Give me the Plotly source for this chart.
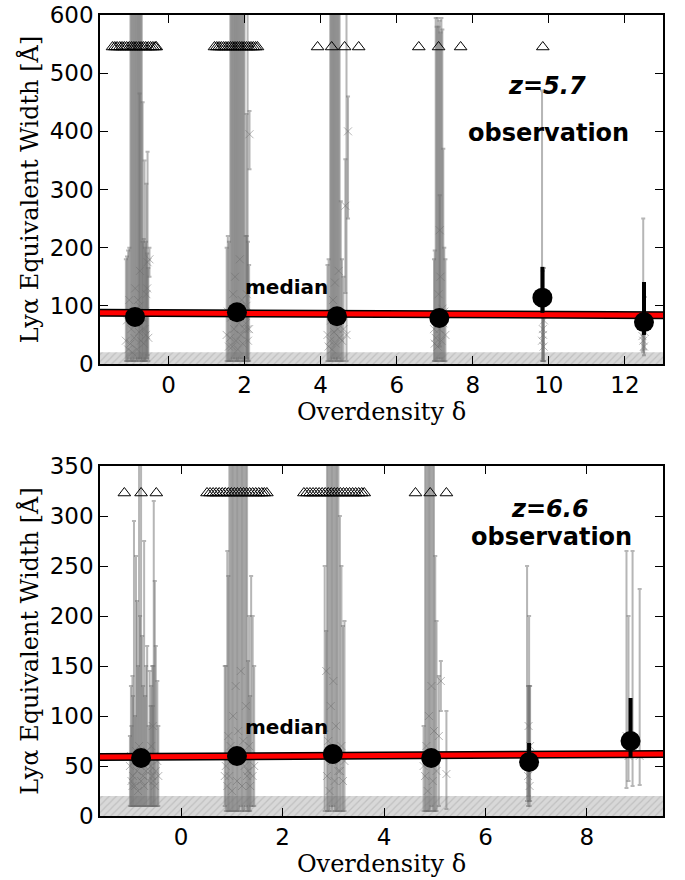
import plotly.graph_objects as go

# ======================= DATA =======================
# ---- z = 5.7 : individual galaxies, grouped by overdensity bin ----
# (overdensity, Lya EW, +error, -error)
top_a_x = [-1.000, -0.975, -0.950, -0.925, -0.900, -0.875, -0.850, -0.825, -0.800, -0.775, -0.750, -0.725, -0.700,
           -1.12, -1.09, -1.06, -1.03, -0.68, -0.65, -0.62, -0.59, -0.56, -0.53,
           -0.76, -0.68, -0.63, -0.58, -0.55, -0.50]
top_a_y = [35, 60, 20, 90, 45, 130, 70, 25, 110, 55, 160, 40, 80,
           40, 75, 25, 110, 60, 35, 90, 50, 130, 45,
           100, 80, 60, 120, 175, 180]
top_a_eup = [590, 560, 600, 530, 580, 490, 550, 600, 510, 570, 460, 580, 540,
             140, 110, 170, 90, 150, 180, 110, 160, 60, 120,
             365, 370, 290, 190, 190, 20]
top_a_edn = [30, 55, 15, 85, 40, 120, 65, 20, 100, 50, 150, 35, 75,
             35, 70, 20, 100, 55, 30, 85, 45, 120, 40,
             90, 70, 55, 110, 160, 30]

top_b_x = [1.625, 1.650, 1.675, 1.700, 1.725, 1.750, 1.775, 1.800, 1.825, 1.850, 1.875, 1.900, 1.925, 1.950,
           1.975, 2.000,
           1.53, 1.56, 1.59, 2.03, 2.06, 2.09, 2.12,
           2.08, 2.05, 2.13]
top_b_y = [45, 80, 30, 120, 60, 150, 40, 95, 25, 70, 180, 50, 110, 35, 85, 60,
           50, 90, 30, 70, 120, 40, 60,
           60, 100, 395]
top_b_eup = [580, 540, 600, 500, 560, 470, 580, 520, 600, 550, 440, 570, 510, 590, 540, 560,
             150, 130, 180, 150, 100, 170, 110,
             560, 330, 40]
top_b_edn = [40, 75, 25, 110, 55, 140, 35, 90, 20, 65, 170, 45, 100, 30, 80, 55,
             45, 85, 25, 65, 110, 35, 55,
             55, 90, 60]

top_c_x = [4.250, 4.275, 4.300, 4.325, 4.350, 4.375, 4.400, 4.425, 4.450, 4.475, 4.500,
           4.18, 4.21, 4.53, 4.56, 4.60,
           4.68, 4.72, 4.65]
top_c_y = [40, 75, 25, 110, 55, 140, 35, 90, 60, 160, 45,
           50, 30, 80, 40, 60,
           50, 400, 272]
top_c_eup = [580, 540, 600, 500, 560, 470, 580, 520, 550, 450, 560,
             120, 150, 200, 140, 90,
             570, 60, 80]
top_c_edn = [35, 70, 20, 100, 50, 130, 30, 85, 55, 150, 40,
             45, 25, 75, 35, 55,
             45, 150, 150]

top_d_x = [7.025, 7.050, 7.075, 7.100, 7.125, 7.150, 7.175, 7.200, 7.225,
           6.98, 7.00, 7.25, 7.28, 7.13]
top_d_y = [45, 80, 30, 120, 60, 150, 40, 95, 70,
           60, 35, 90, 50, 230]
top_d_eup = [550, 500, 565, 460, 530, 420, 555, 480, 300,
             120, 160, 110, 130, 60]
top_d_edn = [40, 75, 25, 110, 55, 140, 35, 90, 65,
             55, 30, 85, 45, 200]

top_e_x = [9.82, 9.84, 9.86, 9.85, 9.87]
top_e_y = [40, 60, 30, 50, 75]
top_e_eup = [430, 100, 80, 60, 90]
top_e_edn = [35, 55, 25, 45, 70]

top_f_x = [12.48, 12.52, 12.50, 12.46]
top_f_y = [40, 55, 30, 48]
top_f_eup = [210, 60, 40, 30]
top_f_edn = [20, 30, 15, 25]

# ---- z = 5.7 : lower limits (EW above plotted range) ----
top_lim_x = [-1.47, -1.41, -1.35, -1.28, -1.22, -1.16, -1.10, -1.03, -0.97, -0.91, -0.85, -0.78,
             -0.72, -0.66, -0.60, -0.53, -0.47, -0.41, -0.35, -0.32,
             1.21, 1.27, 1.33, 1.39, 1.45, 1.51, 1.57, 1.63, 1.69, 1.75, 1.81, 1.87, 1.93, 1.99,
             2.05, 2.11, 2.17, 2.23, 2.29, 2.34,
             3.92, 4.29, 4.63, 5.00,
             6.58, 7.10, 7.68,
             9.84]
top_lim_y = [545] * len(top_lim_x)

# ---- z = 5.7 : medians ----
top_med_x = [-0.88, 1.80, 4.43, 7.12, 9.83, 12.50]
top_med_y = [81, 89, 82, 79, 114, 72]
top_med_eup = [4, 4, 4, 4, 53, 69]
top_med_edn = [4, 4, 4, 4, 26, 22]

# ---- z = 5.7 : linear fit (end points) ----
top_fit_x = [-1.8, 13.0]
top_fit_y = [88, 84]

# ---- z = 6.6 : individual galaxies ----
bot_a_x = [-0.95, -0.93, -0.91, -0.89, -0.87, -0.85, -0.83, -0.81, -0.79, -0.77, -0.75, -0.73, -0.71, -0.69,
           -0.67, -0.64, -0.60, -0.57, -0.54, -0.52, -0.50, -0.98, -1.01, -0.56,
           -0.99, -0.96, -0.62, -0.59, -0.55, -0.47, -0.45]
bot_a_y = [40, 55, 30, 65, 45, 25, 70, 50, 35, 60, 40, 30, 55, 45,
           65, 35, 50, 40, 60, 30, 45, 35, 50, 90,
           60, 30, 45, 70, 35, 55, 40]
bot_a_eup = [80, 240, 70, 195, 170, 125, 290, 150, 320, 120, 90, 245, 65, 105,
             105, 55, 60, 110, 255, 205, 125, 55, 30, 20,
             70, 110, 100, 60, 115, 80, 50]
bot_a_edn = [30, 45, 20, 55, 35, 15, 60, 40, 25, 50, 30, 20, 45, 35,
             55, 25, 40, 30, 50, 20, 35, 25, 40, 30,
             50, 20, 35, 60, 25, 45, 30]

bot_b_x = [0.950, 0.975, 1.000, 1.025, 1.050, 1.075, 1.100, 1.125, 1.150, 1.175, 1.200, 1.225, 1.250, 1.275,
           1.300,
           0.86, 0.88, 0.91, 0.93, 1.32, 1.34, 1.36, 1.38, 1.41, 1.44]
bot_b_y = [40, 70, 25, 100, 55, 130, 35, 85, 60, 145, 30, 75, 50, 110, 40,
           40, 50, 30, 80, 45, 70, 30, 60, 40, 50]
bot_b_eup = [320, 290, 340, 260, 300, 230, 330, 280, 300, 215, 330, 280, 310, 250, 320,
             110, 100, 235, 160, 110, 130, 90, 180, 160, 100]
bot_b_edn = [35, 65, 20, 95, 50, 125, 30, 80, 55, 135, 25, 70, 45, 100, 35,
             30, 45, 25, 75, 40, 65, 25, 50, 30, 40]

bot_c_x = [2.875, 2.900, 2.925, 2.950, 2.975, 3.000, 3.025, 3.050, 3.075, 3.100,
           2.83, 2.86, 3.13, 3.16, 3.19, 3.22]
bot_c_y = [40, 75, 25, 110, 55, 135, 35, 90, 60, 45,
           60, 145, 45, 70, 35, 55]
bot_c_eup = [320, 285, 340, 250, 300, 225, 330, 270, 295, 310,
             190, 40, 255, 180, 155, 140]
bot_c_edn = [35, 70, 20, 100, 50, 125, 30, 85, 55, 40,
             55, 60, 40, 65, 30, 50]

bot_d_x = [4.810, 4.835, 4.860, 4.885, 4.910, 4.935, 4.960, 4.985, 5.010, 5.035,
           5.08, 4.78, 5.23, 5.12]
bot_d_y = [40, 70, 25, 100, 55, 130, 35, 85, 60, 45,
           80, 50, 42, 135]
bot_d_eup = [320, 290, 340, 260, 300, 230, 330, 280, 200, 150,
             60, 40, 63, 20]
bot_d_edn = [35, 65, 20, 95, 50, 120, 30, 80, 55, 40,
             70, 45, 35, 30]

bot_e_x = [6.82, 6.86, 6.84, 6.88, 6.85, 6.87]
bot_e_y = [60, 55, 40, 70, 90, 30]
bot_e_eup = [190, 145, 90, 60, 40, 100]
bot_e_edn = [45, 40, 30, 55, 70, 20]

bot_f_x = [8.78, 8.82, 8.90, 9.04]
bot_f_y = [80, 60, 70, 60]
bot_f_eup = [185, 140, 195, 167]
bot_f_edn = [52, 25, 40, 29]

# ---- z = 6.6 : lower limits ----
bot_lim_x = [-1.12, -0.79, -0.49,
             0.51, 0.57, 0.63, 0.69, 0.75, 0.81, 0.87, 0.93, 0.99, 1.05, 1.11, 1.17, 1.23, 1.29, 1.35,
             1.41, 1.47, 1.53, 1.59, 1.64, 1.69,
             2.42, 2.48, 2.54, 2.60, 2.66, 2.72, 2.78, 2.84, 2.90, 2.96, 3.02, 3.08, 3.14, 3.20, 3.26,
             3.32, 3.38, 3.44, 3.50, 3.56, 3.61,
             4.62, 4.91, 5.23]
bot_lim_y = [323] * len(bot_lim_x)

# ---- z = 6.6 : medians ----
bot_med_x = [-0.79, 1.10, 2.99, 4.93, 6.86, 8.86]
bot_med_y = [58, 60, 62, 58, 54, 75]
bot_med_eup = [3, 3, 3, 3, 19, 43]
bot_med_edn = [3, 3, 3, 3, 5, 16]

# ---- z = 6.6 : linear fit (end points) ----
bot_fit_x = [-1.6, 9.5]
bot_fit_y = [59, 62]

# EW selection limit (hatched band)
EW_LIMIT = 20

# axes
top_xrange = [-1.8, 13.0]
top_yrange = [0, 600]
bot_xrange = [-1.6, 9.5]
bot_yrange = [0, 350]
top_ytick = 100
bot_ytick = 50

top_gal_x = top_a_x + top_b_x + top_c_x + top_d_x + top_e_x + top_f_x
top_gal_y = top_a_y + top_b_y + top_c_y + top_d_y + top_e_y + top_f_y
top_gal_eup = top_a_eup + top_b_eup + top_c_eup + top_d_eup + top_e_eup + top_f_eup
top_gal_edn = top_a_edn + top_b_edn + top_c_edn + top_d_edn + top_e_edn + top_f_edn
bot_gal_x = bot_a_x + bot_b_x + bot_c_x + bot_d_x + bot_e_x + bot_f_x
bot_gal_y = bot_a_y + bot_b_y + bot_c_y + bot_d_y + bot_e_y + bot_f_y
bot_gal_eup = bot_a_eup + bot_b_eup + bot_c_eup + bot_d_eup + bot_e_eup + bot_f_eup
bot_gal_edn = bot_a_edn + bot_b_edn + bot_c_edn + bot_d_edn + bot_e_edn + bot_f_edn

# ======================= FIGURE =======================
GRAY = "rgba(110,110,110,0.5)"
fig = go.Figure()


def add_panel(xa, ya, xr, gx, gy, geu, ged, lx, ly, mx, my, meu, med, fx, fy):
    fig.add_trace(go.Scatter(
        x=[xr[0], xr[1], xr[1], xr[0], xr[0]],
        y=[0, 0, EW_LIMIT, EW_LIMIT, 0],
        fill="toself", mode="lines", line=dict(width=0),
        fillcolor="#d6d6d6",
        fillpattern=dict(shape="/", bgcolor="#d8d8d8", fgcolor="#a8a8a8", size=5, solidity=0.25),
        xaxis=xa, yaxis=ya, hoverinfo="skip", showlegend=False))
    fig.add_trace(go.Scatter(
        x=gx, y=gy, mode="markers",
        marker=dict(symbol="x-thin", size=8, color=GRAY, line=dict(color=GRAY, width=1)),
        error_y=dict(type="data", symmetric=False, array=geu, arrayminus=ged,
                     color=GRAY, thickness=2, width=2),
        xaxis=xa, yaxis=ya, showlegend=False))
    fig.add_trace(go.Scatter(
        x=lx, y=ly, mode="markers",
        marker=dict(symbol="triangle-up-open", size=11, color="black", line=dict(width=1)),
        xaxis=xa, yaxis=ya, showlegend=False))
    fig.add_trace(go.Scatter(x=fx, y=fy, mode="lines", line=dict(color="black", width=8),
                             xaxis=xa, yaxis=ya, showlegend=False))
    fig.add_trace(go.Scatter(x=fx, y=fy, mode="lines", line=dict(color="#ff0000", width=5),
                             xaxis=xa, yaxis=ya, showlegend=False))
    fig.add_trace(go.Scatter(
        x=mx, y=my, mode="markers",
        marker=dict(symbol="circle", size=20, color="black"),
        error_y=dict(type="data", symmetric=False, array=meu, arrayminus=med,
                     color="black", thickness=4, width=0),
        xaxis=xa, yaxis=ya, showlegend=False))


add_panel("x", "y", top_xrange, top_gal_x, top_gal_y, top_gal_eup, top_gal_edn,
          top_lim_x, top_lim_y, top_med_x, top_med_y, top_med_eup, top_med_edn, top_fit_x, top_fit_y)
add_panel("x2", "y2", bot_xrange, bot_gal_x, bot_gal_y, bot_gal_eup, bot_gal_edn,
          bot_lim_x, bot_lim_y, bot_med_x, bot_med_y, bot_med_eup, bot_med_edn, bot_fit_x, bot_fit_y)

W, H = 685, 880
xdom = [100 / W, 663 / W]
top_ydom = [(H - 364) / H, (H - 15) / H]
bot_ydom = [(H - 816) / H, (H - 466) / H]

tickfont = dict(family="DejaVu Sans", size=23, color="black")
titlefont = dict(family="DejaVu Serif", size=24, color="black")
axcommon = dict(showline=True, linecolor="black", linewidth=1.5, mirror="ticks",
                ticks="inside", ticklen=8, tickwidth=1.2, tickcolor="black",
                showgrid=False, zeroline=False, tickfont=tickfont, automargin=False,
                ticklabeloverflow="allow")

fig.update_layout(
    width=W, height=H, margin=dict(l=0, r=0, t=0, b=0),
    paper_bgcolor="white", plot_bgcolor="white",
    xaxis=dict(domain=xdom, anchor="y", range=top_xrange, tick0=0, dtick=2,
               title=dict(text="Overdensity δ", font=titlefont, standoff=2), **axcommon),
    yaxis=dict(domain=top_ydom, anchor="x", range=top_yrange, dtick=top_ytick,
               title=dict(text="Lyα Equivalent Width [Å]", font=titlefont, standoff=4), **axcommon),
    xaxis2=dict(domain=xdom, anchor="y2", range=bot_xrange, tick0=0, dtick=2,
                title=dict(text="Overdensity δ", font=titlefont, standoff=2), **axcommon),
    yaxis2=dict(domain=bot_ydom, anchor="x2", range=bot_yrange, dtick=bot_ytick,
                title=dict(text="Lyα Equivalent Width [Å]", font=titlefont, standoff=4), **axcommon),
)

labfont = dict(family="DejaVu Sans", size=24, color="black")
medfont = dict(family="DejaVu Sans", size=20, color="black")
fig.add_annotation(x=3.1, y=132, xref="x", yref="y", text="<b>median</b>", showarrow=False, font=medfont)
fig.add_annotation(x=2.08, y=89, xref="x2", yref="y2", text="<b>median</b>", showarrow=False, font=medfont)
for txt, px, py in [("<b><i>z=5.7</i></b>", 547, 86), ("<b>observation</b>", 548, 133),
                    ("<b><i>z=6.6</i></b>", 550, 509), ("<b>observation</b>", 551, 537)]:
    fig.add_annotation(x=px / W, y=(H - py) / H, xref="paper", yref="paper", text=txt,
                       xanchor="center", yanchor="middle", showarrow=False, font=labfont)

# page body has a default 8px margin; remove it so the figure sits at the window origin
fig.write_html("out.html", config={"displayModeBar": False},
               post_script="document.body.style.margin='0px';")
